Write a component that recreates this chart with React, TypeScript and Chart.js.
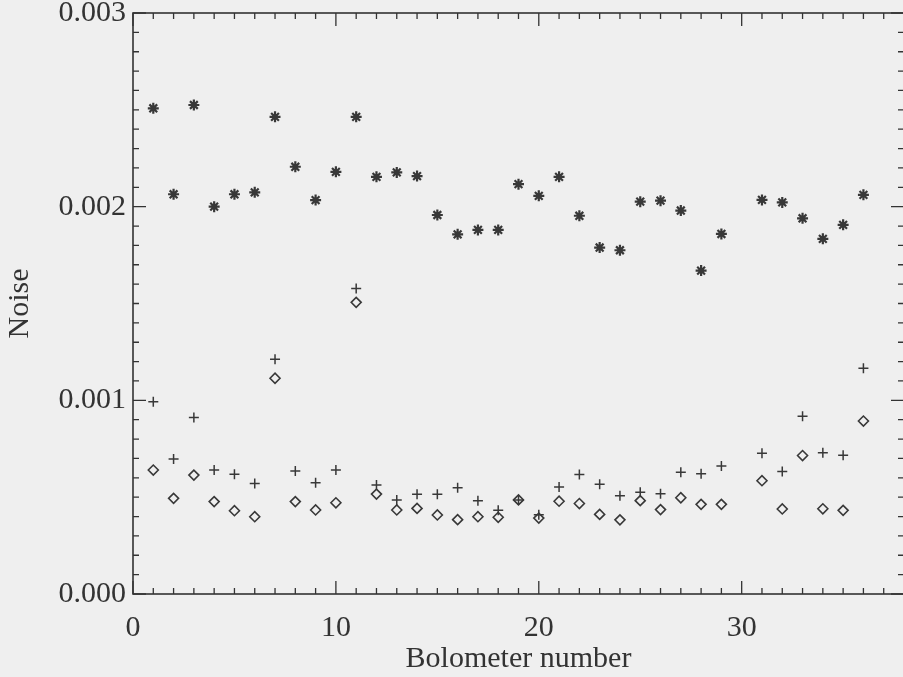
import React, { useEffect, useRef } from "react";
import { Chart, registerables } from "chart.js";

Chart.register(...registerables);

// Bolometer channel numbers (channel 30 has no measurement)
const bolometers = [
  1, 2, 3, 4, 5, 6, 7, 8, 9, 10, 11, 12, 13, 14, 15, 16, 17, 18, 19, 20,
  21, 22, 23, 24, 25, 26, 27, 28, 29, 31, 32, 33, 34, 35, 36,
];

// Noise of the raw timestreams (asterisks)
const noiseRaw = [
  0.002508, 0.002064, 0.002525, 0.002, 0.002064, 0.002074, 0.002464, 0.002206,
  0.002034, 0.00218, 0.002464, 0.002154, 0.002177, 0.002158, 0.001957, 0.001857,
  0.00188, 0.00188, 0.002116, 0.002056, 0.002154, 0.001953, 0.001789, 0.001775,
  0.002026, 0.002031, 0.00198, 0.00167, 0.001859, 0.002035, 0.002022, 0.00194,
  0.001834, 0.001906, 0.002061,
];

// Noise after the first cleaning step (plus signs)
const noiseClean1 = [
  0.000993, 0.000697, 0.000912, 0.00064, 0.000618, 0.000571, 0.001212, 0.000635,
  0.000575, 0.00064, 0.001578, 0.000563, 0.000485, 0.000515, 0.000515, 0.000549,
  0.000481, 0.000433, 0.000486, 0.000409, 0.000552, 0.000617, 0.000567, 0.000507,
  0.000525, 0.000517, 0.000629, 0.000621, 0.000661, 0.000727, 0.000632, 0.000918,
  0.000729, 0.000716, 0.001166,
];

// Noise after the second cleaning step (diamonds)
const noiseClean2 = [
  0.00064, 0.000494, 0.000614, 0.000477, 0.00043, 0.000399, 0.001114, 0.000477,
  0.000434, 0.000471, 0.001506, 0.000516, 0.000434, 0.000442, 0.000408, 0.000384,
  0.000399, 0.000396, 0.000486, 0.000392, 0.000479, 0.000467, 0.000411, 0.000383,
  0.000482, 0.000436, 0.000497, 0.000463, 0.000463, 0.000585, 0.000439, 0.000715,
  0.00044, 0.000432, 0.000893,
];

const xMin = 0;
const xMax = 38;
const xMajorStep = 10;
const xMinorStep = 1;
const yMin = 0;
const yMax = 0.003;
const yMajorStep = 0.001;
const yMinorStep = 0.0001;

const INK = "#333333";
const MARK = "#383838";
const FONT = "'Liberation Serif', 'DejaVu Serif', serif";

const pts = (vals: number[]) => bolometers.map((b, i) => ({ x: b, y: vals[i] }));

// Boxed frame with inward-pointing ticks on all four sides
const framePlugin = {
  id: "frameTicks",
  beforeDatasetsDraw(chart: any) {
    const { ctx, chartArea } = chart;
    const { left, right, top, bottom } = chartArea;
    const xs = chart.scales.x;
    const ys = chart.scales.y;
    const major = 13;
    const minor = 6;
    ctx.save();
    ctx.strokeStyle = INK;
    ctx.lineWidth = 1.6;
    ctx.strokeRect(left, top, right - left, bottom - top);
    ctx.lineWidth = 1.3;
    ctx.beginPath();
    const nx = Math.round((xMax - xMin) / xMinorStep);
    for (let i = 0; i <= nx; i++) {
      const v = xMin + i * xMinorStep;
      const px = xs.getPixelForValue(v);
      const len = Math.abs(v % xMajorStep) < 1e-9 ? major : minor;
      ctx.moveTo(px, bottom);
      ctx.lineTo(px, bottom - len);
      ctx.moveTo(px, top);
      ctx.lineTo(px, top + len);
    }
    const ny = Math.round((yMax - yMin) / yMinorStep);
    for (let i = 0; i <= ny; i++) {
      const v = yMin + i * yMinorStep;
      const py = ys.getPixelForValue(v);
      const len = i % Math.round(yMajorStep / yMinorStep) === 0 ? major : minor;
      ctx.moveTo(left, py);
      ctx.lineTo(left + len, py);
      ctx.moveTo(right, py);
      ctx.lineTo(right - len, py);
    }
    ctx.stroke();
    ctx.restore();
  },
};

export default function App() {
  const ref = useRef<HTMLCanvasElement | null>(null);

  useEffect(() => {
    if (!ref.current) return;
    const chart = new Chart(ref.current, {
      type: "scatter",
      data: {
        datasets: [
          {
            label: "raw",
            data: pts(noiseRaw),
            pointStyle: "star",
            pointRadius: 5.5,
            borderWidth: 2.2,
            borderColor: MARK,
            backgroundColor: MARK,
          },
          {
            label: "cleaned (1)",
            data: pts(noiseClean1),
            pointStyle: "cross",
            pointRadius: 5,
            borderWidth: 1.5,
            borderColor: MARK,
            backgroundColor: MARK,
          },
          {
            label: "cleaned (2)",
            data: pts(noiseClean2),
            pointStyle: "rectRot",
            pointRadius: 5,
            borderWidth: 1.6,
            borderColor: MARK,
            backgroundColor: "rgba(0,0,0,0)",
          },
        ],
      },
      options: {
        responsive: false,
        animation: false,
        events: [],
        layout: { padding: { left: 0, top: 13, right: 11, bottom: 0 } },
        plugins: {
          legend: { display: false },
          tooltip: { enabled: false },
        },
        scales: {
          x: {
            type: "linear",
            min: xMin,
            max: xMax,
            grid: { display: false, drawTicks: false },
            border: { display: false },
            ticks: {
              stepSize: xMajorStep,
              includeBounds: false,
              padding: 16,
              color: INK,
              font: { family: FONT, size: 30 },
              maxRotation: 0,
            },
            title: {
              display: true,
              text: "Bolometer number",
              color: INK,
              font: { family: FONT, size: 30 },
              padding: { top: 0, bottom: 0 },
            },
            afterFit(scale: any) {
              scale.height = 83;
            },
          },
          y: {
            type: "linear",
            min: yMin,
            max: yMax,
            grid: { display: false, drawTicks: false },
            border: { display: false },
            ticks: {
              stepSize: yMajorStep,
              includeBounds: false,
              padding: 7,
              color: INK,
              font: { family: FONT, size: 30, lineHeight: 0.3 },
              callback: (v: any) => Number(v).toFixed(3),
            },
            title: {
              display: true,
              text: "Noise",
              color: INK,
              font: { family: FONT, size: 30 },
              padding: { top: 2, bottom: 0 },
            },
            afterFit(scale: any) {
              scale.width = 133;
            },
          },
        },
      },
      plugins: [framePlugin],
    });
    return () => chart.destroy();
  }, []);

  return (
    <div
      style={{
        position: "fixed",
        left: 0,
        top: 0,
        width: 903,
        height: 677,
        overflow: "hidden",
        background: "#efefef",
      }}
    >
      <canvas ref={ref} width={915} height={677} style={{ display: "block" }} />
    </div>
  );
}
